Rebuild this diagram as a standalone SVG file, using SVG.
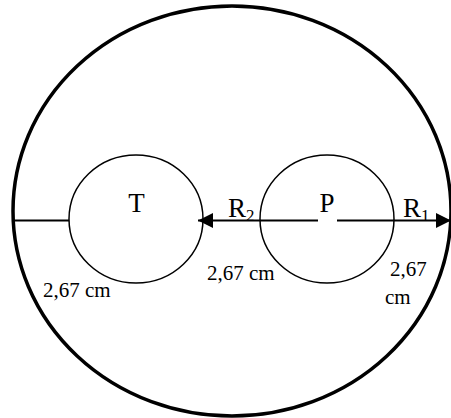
<svg xmlns="http://www.w3.org/2000/svg" width="451" height="418" viewBox="0 0 451 418">
<style>
text{font-family:"Times New Roman","Liberation Serif","DejaVu Serif",serif;fill:#000}
.big{font-size:27px}
.lbl{font-size:21px}
.ring{fill:none;stroke:#000;stroke-width:1.5}
.ln{stroke:#000;stroke-width:2;fill:none}
</style>
<defs>
<marker id="ah" viewBox="0 0 10 10" refX="10" refY="5" markerWidth="15" markerHeight="15" markerUnits="userSpaceOnUse" orient="auto">
<path d="M0,0 L10,5 L0,10 Z" fill="#000"/>
</marker>
</defs>
<g id="outer"><ellipse cx="232" cy="211" rx="219" ry="205" fill="none" stroke="#000" stroke-width="3.5"/></g>
<g id="T"><ellipse class="ring" cx="136" cy="219" rx="67" ry="64"/><text class="big" x="136.5" y="212" text-anchor="middle">T</text></g>
<g id="P"><ellipse class="ring" cx="327" cy="219" rx="67" ry="64"/><text class="big" x="327" y="212" text-anchor="middle">P</text></g>
<g id="connectors">
<line class="ln" x1="13" y1="220.5" x2="69" y2="220.5"/>
<line class="ln" x1="318" y1="220.5" x2="198" y2="220.5" marker-end="url(#ah)"/>
<line class="ln" x1="337" y1="220.5" x2="451" y2="220.5" marker-end="url(#ah)"/>
</g>
<g id="labels">
<text class="big" x="228" y="217">R<tspan font-size="17" dy="4">2</tspan></text>
<text class="big" x="403" y="217">R<tspan font-size="17" dy="4">1</tspan></text>
<text class="lbl" x="43" y="297">2,67 cm</text>
<text class="lbl" x="207" y="280">2,67 cm</text>
<text class="lbl" x="390" y="276">2,67</text>
<text class="lbl" x="385" y="304">cm</text>
</g>
</svg>
